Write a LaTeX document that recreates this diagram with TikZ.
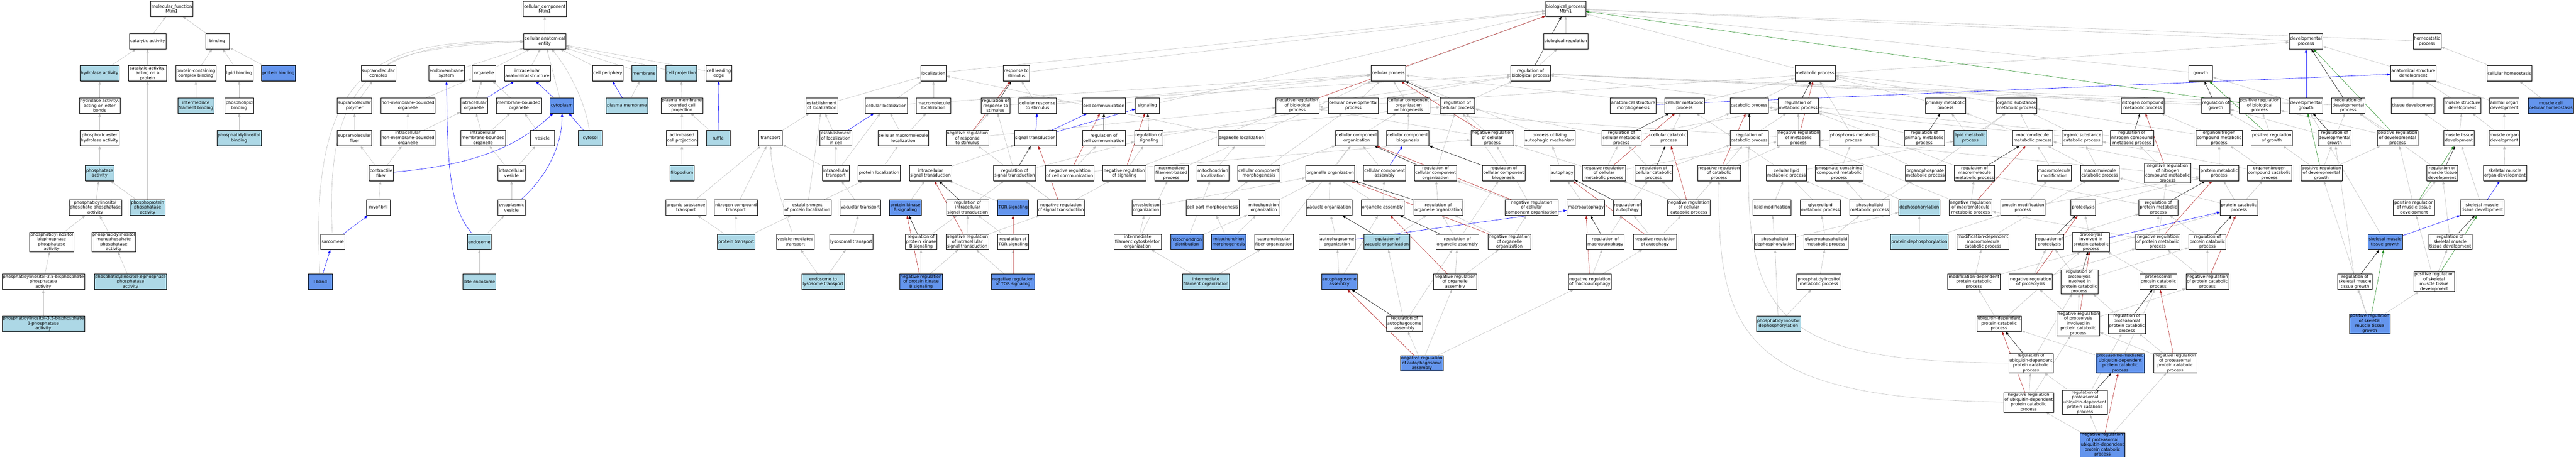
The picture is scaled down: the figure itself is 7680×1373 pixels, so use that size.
\documentclass[tikz,border=0pt]{standalone}
\usepackage{fontspec}
\setmainfont{DejaVu Sans}
\usetikzlibrary{arrows.meta,shadows}
\definecolor{egray}{HTML}{BEBEBE}
\definecolor{lb}{HTML}{ADD8E6}
\definecolor{db}{HTML}{6495ED}
\definecolor{fbred}{HTML}{B22222}
\definecolor{fgreen}{HTML}{228B22}
\pgfdeclarelayer{background}
\pgfsetlayers{background,main}
\tikzset{
  box/.style={rectangle, draw=black, line width=0.8pt, fill=white, align=center,
    font=\fontsize{12.6}{14.6}\selectfont, inner xsep=2.5pt, inner ysep=1pt,
    minimum width=71pt, minimum height=46pt,
    drop shadow={shadow xshift=0.7pt, shadow yshift=-1.5pt, fill=black!45, opacity=1}},
  gn/.style={box},
  gl/.style={box, fill=lb},
  gd/.style={box, fill=db},
  egr/.style={draw=egray, line width=0.9pt, -{Triangle[length=10pt,width=7pt]}},
  eblu/.style={draw=blue, line width=0.9pt, -{Triangle[length=10pt,width=7pt]}},
  eblk/.style={draw=black, line width=0.9pt, -{Triangle[length=10pt,width=7pt]}},
  ered/.style={draw=fbred, line width=0.9pt, -{Triangle[length=10pt,width=7pt]}},
  egrn/.style={draw=fgreen, line width=0.9pt, -{Triangle[length=10pt,width=7pt]}}
}
\begin{document}
\begin{tikzpicture}[x=1pt,y=-1pt]
\useasboundingbox (0,0) rectangle (7680,1373);
% ---------------- molecular function ----------------
\node[gn] (mf) at (512,26) {molecular\_function\\Mtm1};
\node[gn] (cat) at (440,123) {catalytic activity};
\node[gn] (bind) at (648,123) {binding};
\node[gl] (hyd) at (297,219) {hydrolase activity};
\node[gn] (catp) at (440,219) {catalytic activity,\\acting on a\\protein};
\node[gn] (pcb) at (584,219) {protein-containing\\complex binding};
\node[gn] (lipb) at (713,219) {lipid binding};
\node[gd] (protb) at (830,219) {protein binding};
\node[gn] (hydest) at (297,315) {hydrolase activity,\\acting on ester\\bonds};
\node[gl] (ifb) at (584,315) {intermediate\\filament binding};
\node[gn] (plb) at (713,315) {phospholipid\\binding};
\node[gn] (pehyd) at (297,412) {phosphoric ester\\hydrolase activity};
\node[gl] (pib) at (713,412) {phosphatidylinositol\\binding};
\node[gl] (phos) at (297,517) {phosphatase\\activity};
\node[gn] (pipp) at (284,620) {phosphatidylinositol\\phosphate phosphatase\\activity};
\node[gl] (ppp) at (440,620) {phosphoprotein\\phosphatase\\activity};
\node[gn] (pibpp) at (154,722) {phosphatidylinositol\\bisphosphate\\phosphatase\\activity};
\node[gn] (pimpp) at (339,722) {phosphatidylinositol\\monophosphate\\phosphatase\\activity};
\node[gn] (pi35) at (129,841) {phosphatidylinositol-3,5-bisphosphate\\phosphatase\\activity};
\node[gl] (pi3p) at (389,841) {phosphatidylinositol-3-phosphate\\phosphatase\\activity};
\node[gl] (pi353) at (129,966) {phosphatidylinositol-3,5-bisphosphate\\3-phosphatase\\activity};
% ---------------- cellular component ----------------
\node[gn] (cc) at (1624,26) {cellular\_component\\Mtm1};
\node[gn] (cae) at (1624,123) {cellular anatomical\\entity};
\node[gn] (smc) at (1128,219) {supramolecular\\complex};
\node[gn] (ems) at (1331,219) {endomembrane\\system};
\node[gn] (org) at (1443,219) {organelle};
\node[gn] (ias) at (1572,219) {intracellular\\anatomical structure};
\node[gn] (cper) at (1812,219) {cell periphery};
\node[gl] (mem) at (1920,219) {membrane};
\node[gl] (cproj) at (2031,219) {cell projection};
\node[gn] (cle) at (2143,219) {cell leading\\edge};
\node[gn] (smp) at (1057,315) {supramolecular\\polymer};
\node[gn] (nmbo) at (1216,315) {non-membrane-bounded\\organelle};
\node[gn] (iorg) at (1413,315) {intracellular\\organelle};
\node[gn] (mbo) at (1547,315) {membrane-bounded\\organelle};
\node[gd] (cyto) at (1675,315) {cytoplasm};
\node[gl] (pm) at (1869,315) {plasma membrane};
\node[gn] (pmbcp) at (2033,315) {plasma membrane\\bounded cell\\projection};
\node[gn] (smf) at (1057,412) {supramolecular\\fiber};
\node[gn] (inmbo) at (1216,412) {intracellular\\non-membrane-bounded\\organelle};
\node[gn] (imbo) at (1440,412) {intracellular\\membrane-bounded\\organelle};
\node[gn] (ves) at (1617,412) {vesicle};
\node[gl] (cytosol) at (1760,412) {cytosol};
\node[gn] (abcp) at (2033,412) {actin-based\\cell projection};
\node[gl] (ruffle) at (2141,412) {ruffle};
\node[gn] (cfib) at (1136,517) {contractile\\fiber};
\node[gn] (iv) at (1525,517) {intracellular\\vesicle};
\node[gl] (filo) at (2033,517) {filopodium};
\node[gn] (myo) at (1128,620) {myofibril};
\node[gn] (cv) at (1525,620) {cytoplasmic\\vesicle};
\node[gn] (sarc) at (992,722) {sarcomere};
\node[gl] (endo) at (1429,722) {endosome};
\node[gd] (iband) at (955,841) {I band};
\node[gl] (lendo) at (1429,841) {late endosome};
% ---------------- biological process ----------------
\node[gn] (bp) at (4668,26) {biological\_process\\Mtm1};
\node[gn] (breg) at (4668,123) {biological regulation};
\node[gn] (devp) at (6875,123) {developmental\\process};
\node[gn] (homp) at (7236,123) {homeostatic\\process};
% row 219
\node[gn] (loc) at (2783,219) {localization};
\node[gn] (rstim) at (3030,219) {response to\\stimulus};
\node[gn] (cp) at (4139,219) {cellular process};
\node[gn] (rbp) at (4563,219) {regulation of\\biological process};
\node[gn] (mp) at (5411,219) {metabolic process};
\node[gn] (growth) at (6561,219) {growth};
\node[gn] (asd) at (7195,219) {anatomical structure\\development};
\node[gn] (chom) at (7481,219) {cellular homeostasis};
% row 315
\node[gn] (estloc) at (2450,315) {establishment\\of localization};
\node[gn] (cloc) at (2642,315) {cellular localization};
\node[gn] (mmloc) at (2783,315) {macromolecule\\localization};
\node[gn] (rrs) at (2968,315) {regulation of\\response to\\stimulus};
\node[gn] (crs) at (3093,315) {cellular response\\to stimulus};
\node[gn] (ccom) at (3291,315) {cell communication};
\node[gn] (sig) at (3421,315) {signaling};
\node[gn] (nrbp) at (3868,315) {negative regulation\\of biological\\process};
\node[gn] (cdp) at (4035,315) {cellular developmental\\process};
\node[gn] (ccob) at (4200,315) {cellular component\\organization\\or biogenesis};
\node[gn] (rcp) at (4345,315) {regulation of\\cellular process};
\node[gn] (asm) at (4869,315) {anatomical structure\\morphogenesis};
\node[gn] (cmp) at (5022,315) {cellular metabolic\\process};
\node[gn] (catp2) at (5215,315) {catabolic process};
\node[gn] (rmp) at (5361,315) {regulation of\\metabolic process};
\node[gn] (pmp) at (5800,315) {primary metabolic\\process};
\node[gn] (osmp) at (6012,315) {organic substance\\metabolic process};
\node[gn] (ncmp) at (6388,315) {nitrogen compound\\metabolic process};
\node[gn] (rgrowth) at (6606,315) {regulation of\\growth};
\node[gn] (prbp) at (6737,315) {positive regulation\\of biological\\process};
\node[gn] (dgrowth) at (6875,315) {developmental\\growth};
\node[gn] (rdp) at (7001,315) {regulation of\\developmental\\process};
\node[gn] (tdev) at (7194,315) {tissue development};
\node[gn] (msd) at (7341,315) {muscle structure\\development};
\node[gn] (aod) at (7466,315) {animal organ\\development};
\node[gd] (mcch) at (7605,315) {muscle cell\\cellular homeostasis};
% row 412
\node[gn] (trans) at (2297,412) {transport};
\node[gn] (estlocc) at (2492,412) {establishment\\of localization\\in cell};
\node[gn] (cmmloc) at (2693,412) {cellular macromolecule\\localization};
\node[gn] (nrrs) at (2884,412) {negative regulation\\of response\\to stimulus};
\node[gn] (st) at (3087,412) {signal transduction};
\node[gn] (rcc) at (3291,412) {regulation of\\cell communication};
\node[gn] (rsig) at (3425,412) {regulation of\\signaling};
\node[gn] (oloc) at (3701,412) {organelle localization};
\node[gn] (cco) at (4045,412) {cellular component\\organization};
\node[gn] (ccb) at (4197,412) {cellular component\\biogenesis};
\node[gn] (nrcp) at (4449,412) {negative regulation\\of cellular\\process};
\node[gn] (puam) at (4620,412) {process utilizing\\autophagic mechanism};
\node[gn] (rcmp) at (4834,412) {regulation of\\cellular metabolic\\process};
\node[gn] (ccatp) at (4975,412) {cellular catabolic\\process};
\node[gn] (rcatp) at (5215,412) {regulation of\\catabolic process};
\node[gn] (nrmp) at (5362,412) {negative regulation\\of metabolic\\process};
\node[gn] (phmp) at (5526,412) {phosphorus metabolic\\process};
\node[gn] (rpmp) at (5737,412) {regulation of\\primary metabolic\\process};
\node[gl] (lmp) at (5874,412) {lipid metabolic\\process};
\node[gn] (mmp) at (6060,412) {macromolecule\\metabolic process};
\node[gn] (oscp) at (6207,412) {organic substance\\catabolic process};
\node[gn] (rncmp) at (6356,412) {regulation of\\nitrogen compound\\metabolic process};
\node[gn] (oncmp) at (6616,412) {organonitrogen\\compound metabolic\\process};
\node[gn] (prgrowth) at (6773,412) {positive regulation\\of growth};
\node[gn] (rdgrowth) at (6960,412) {regulation of\\developmental\\growth};
\node[gn] (prdp) at (7148,412) {positive regulation\\of developmental\\process};
\node[gn] (mtd) at (7331,412) {muscle tissue\\development};
\node[gn] (mod) at (7466,412) {muscle organ\\development};
% row 517
\node[gn] (itrans) at (2492,517) {intracellular\\transport};
\node[gn] (ploc) at (2621,517) {protein localization};
\node[gn] (ist) at (2774,517) {intracellular\\signal transduction};
\node[gn] (rst) at (3025,517) {regulation of\\signal transduction};
\node[gn] (nrcc) at (3189,517) {negative regulation\\of cell communication};
\node[gn] (nrsig) at (3352,517) {negative regulation\\of signaling};
\node[gn] (ifbp) at (3492,517) {intermediate\\filament-based\\process};
\node[gn] (mloc) at (3616,517) {mitochondrion\\localization};
\node[gn] (ccm) at (3753,517) {cellular component\\morphogenesis};
\node[gn] (oorg) at (3966,517) {organelle organization};
\node[gn] (cca) at (4128,517) {cellular component\\assembly};
\node[gn] (rcco) at (4280,517) {regulation of\\cellular component\\organization};
\node[gn] (rccb) at (4483,517) {regulation of\\cellular component\\biogenesis};
\node[gn] (autoph) at (4657,517) {autophagy};
\node[gn] (nrcmp) at (4782,517) {negative regulation\\of cellular\\metabolic process};
\node[gn] (rccatp) at (4930,517) {regulation of\\cellular catabolic\\process};
\node[gn] (nrcatp) at (5125,517) {negative regulation\\of catabolic\\process};
\node[gn] (clmp) at (5326,517) {cellular lipid\\metabolic process};
\node[gn] (pccmp) at (5483,517) {phosphate-containing\\compound metabolic\\process};
\node[gn] (opmp) at (5740,517) {organophosphate\\metabolic process};
\node[gn] (rmmp) at (5887,517) {regulation of\\macromolecule\\metabolic process};
\node[gn] (mmmod) at (6124,517) {macromolecule\\modification};
\node[gn] (mmcp) at (6260,517) {macromolecule\\catabolic process};
\node[gn] (nrncmp) at (6462,517) {negative regulation\\of nitrogen\\compound metabolic\\process};
\node[gn] (protmp) at (6616,517) {protein metabolic\\process};
\node[gn] (onccp) at (6766,517) {organonitrogen\\compound catabolic\\process};
\node[gn] (prdg) at (6921,517) {positive regulation\\of developmental\\growth};
\node[gn] (rmtd) at (7281,517) {regulation of\\muscle tissue\\development};
\node[gn] (smod) at (7468,517) {skeletal muscle\\organ development};
% row 620
\node[gn] (ost) at (2045,620) {organic substance\\transport};
\node[gn] (nct) at (2194,620) {nitrogen compound\\transport};
\node[gn] (eploc) at (2407,620) {establishment\\of protein localization};
\node[gn] (vtrans) at (2565,620) {vacuolar transport};
\node[gd] (pkb) at (2699,620) {protein kinase\\B signaling};
\node[gn] (rist) at (2885,620) {regulation of\\intracellular\\signal transduction};
\node[gd] (tor) at (3020,620) {TOR signaling};
\node[gn] (nrst) at (3163,620) {negative regulation\\of signal transduction};
\node[gn] (csko) at (3417,620) {cytoskeleton\\organization};
\node[gn] (cpm) at (3615,620) {cell part morphogenesis};
\node[gn] (mito) at (3768,620) {mitochondrion\\organization};
\node[gn] (vorg) at (3962,620) {vacuole organization};
\node[gn] (oasm) at (4122,620) {organelle assembly};
\node[gn] (roo) at (4288,620) {regulation of\\organelle organization};
\node[gn] (nrcco) at (4566,620) {negative regulation\\of cellular\\component organization};
\node[gn] (macro) at (4728,620) {macroautophagy};
\node[gn] (raut) at (4852,620) {regulation of\\autophagy};
\node[gn] (nrccatp) at (5035,620) {negative regulation\\of cellular\\catabolic process};
\node[gn] (lmod) at (5283,620) {lipid modification};
\node[gn] (glmp) at (5427,620) {glycerolipid\\metabolic process};
\node[gn] (plmp) at (5574,620) {phospholipid\\metabolic process};
\node[gl] (dephos) at (5722,620) {dephosphorylation};
\node[gn] (nrmmp) at (5875,620) {negative regulation\\of macromolecule\\metabolic process};
\node[gn] (pmodp) at (6031,620) {protein modification\\process};
\node[gn] (prot) at (6211,620) {proteolysis};
\node[gn] (rprotmp) at (6435,620) {regulation of\\protein metabolic\\process};
\node[gn] (pcatp) at (6675,620) {protein catabolic\\process};
\node[gn] (prmtd) at (7197,620) {positive regulation\\of muscle tissue\\development};
\node[gn] (smtd) at (7400,620) {skeletal muscle\\tissue development};
% row 722
\node[gl] (ptrans) at (2195,722) {protein transport};
\node[gn] (vmt) at (2371,722) {vesicle-mediated\\transport};
\node[gn] (lyst) at (2538,722) {lysosomal transport};
\node[gn] (rpkb) at (2746,722) {regulation of\\protein kinase\\B signaling};
\node[gn] (nrist) at (2884,722) {negative regulation\\of intracellular\\signal transduction};
\node[gn] (rtor) at (3020,722) {regulation of\\TOR signaling};
\node[gn] (ifco) at (3392,722) {intermediate\\filament cytoskeleton\\organization};
\node[gd] (mdist) at (3538,722) {mitochondrion\\distribution};
\node[gd] (mmorph) at (3663,722) {mitochondrion\\morphogenesis};
\node[gn] (sfo) at (3798,722) {supramolecular\\fiber organization};
\node[gn] (apo) at (3986,722) {autophagosome\\organization};
\node[gl] (rvo) at (4134,722) {regulation of\\vacuole organization};
\node[gn] (roa) at (4345,722) {regulation of\\organelle assembly};
\node[gn] (nroo) at (4500,722) {negative regulation\\of organelle\\organization};
\node[gn] (rmacro) at (4786,722) {regulation of\\macroautophagy};
\node[gn] (nraut) at (4934,722) {negative regulation\\of autophagy};
\node[gn] (pldeph) at (5291,722) {phospholipid\\dephosphorylation};
\node[gn] (gplmp) at (5444,722) {glycerophospholipid\\metabolic process};
\node[gl] (pdeph) at (5722,722) {protein dephosphorylation};
\node[gn] (mdmcp) at (5912,722) {modification-dependent\\macromolecule\\catabolic process};
\node[gn] (rprot) at (6110,722) {regulation of\\proteolysis};
\node[gn] (pipcp) at (6234,722) {proteolysis\\involved in\\protein catabolic\\process};
\node[gn] (nrprotmp) at (6433,722) {negative regulation\\of protein metabolic\\process};
\node[gn] (rpcatp) at (6581,722) {regulation of\\protein catabolic\\process};
\node[gd] (smtg) at (7111,722) {skeletal muscle\\tissue growth};
\node[gn] (rsmtd) at (7305,722) {regulation of\\skeletal muscle\\tissue development};
% row 841
\node[gl] (etl) at (2454,841) {endosome to\\lysosome transport};
\node[gd] (nrpkb) at (2746,841) {negative regulation\\of protein kinase\\B signaling};
\node[gd] (nrtor) at (3020,841) {negative regulation\\of TOR signaling};
\node[gl] (ifo) at (3595,841) {intermediate\\filament organization};
\node[gd] (apa) at (3993,841) {autophagosome\\assembly};
\node[gn] (nroa) at (4338,841) {negative regulation\\of organelle\\assembly};
\node[gn] (nrmacro) at (4740,841) {negative regulation\\of macroautophagy};
\node[gn] (pimp) at (5423,841) {phosphatidylinositol\\metabolic process};
\node[gn] (mdpcp) at (5885,841) {modification-dependent\\protein catabolic\\process};
\node[gn] (nrprot) at (6054,841) {negative regulation\\of proteolysis};
\node[gn] (rpipcp) at (6199,841) {regulation of\\proteolysis\\involved in\\protein catabolic\\process};
\node[gn] (ppcp) at (6435,841) {proteasomal\\protein catabolic\\process};
\node[gn] (nrpcatp) at (6581,841) {negative regulation\\of protein catabolic\\process};
\node[gn] (rsmtg) at (7021,841) {regulation of\\skeletal muscle\\tissue growth};
\node[gn] (prsmtd) at (7257,841) {positive regulation\\of skeletal\\muscle tissue\\development};
% row 966
\node[gn] (rapa) at (4187,966) {regulation of\\autophagosome\\assembly};
\node[gl] (pideph) at (5302,966) {phosphatidylinositol\\dephosphorylation};
\node[gn] (udpcp) at (5960,966) {ubiquitin-dependent\\protein catabolic\\process};
\node[gn] (nrpipcp) at (6196,966) {negative regulation\\of proteolysis\\involved in\\protein catabolic\\process};
\node[gn] (rppcp) at (6341,966) {regulation of\\proteasomal\\protein catabolic\\process};
\node[gd] (prsmtg) at (7065,966) {positive regulation\\of skeletal\\muscle tissue\\growth};
% row 1084
\node[gd] (nrapa) at (4239,1084) {negative regulation\\of autophagosome\\assembly};
\node[gn] (rudpcp) at (6055,1084) {regulation of\\ubiquitin-dependent\\protein catabolic\\process};
\node[gd] (pmudp) at (6321,1084) {proteasome-mediated\\ubiquitin-dependent\\protein catabolic\\process};
\node[gn] (nrppcp) at (6485,1084) {negative regulation\\of proteasomal\\protein catabolic\\process};
% row 1201
\node[gn] (nrudpcp) at (6048,1201) {negative regulation\\of ubiquitin-dependent\\protein catabolic\\process};
\node[gn] (rpudp) at (6216,1201) {regulation of\\proteasomal\\ubiquitin-dependent\\protein catabolic\\process};
% row 1328
\node[gd] (nrpudp) at (6268,1328) {negative regulation\\of proteasomal\\ubiquitin-dependent\\protein catabolic\\process};

\begin{pgfonlayer}{background}
\fill[white] (0,0) rectangle (7680,1373);
% ---- gray is_a edges ----
\foreach \a/\b in {cat/mf,bind/mf,hyd/cat,catp/cat,pcb/bind,lipb/bind,protb/bind,hydest/hyd,ifb/pcb,plb/lipb,pehyd/hydest,pib/plb,phos/pehyd,pipp/phos,ppp/phos,ppp/catp,pibpp/pipp,pimpp/pipp,pi35/pibpp,pi3p/pimpp,pi353/pi35,
 cae/cc,ems/cae,org/cae,ias/cae,cper/cae,mem/cae,cproj/cae,cle/cae,smp/smc,nmbo/org,iorg/org,mbo/org,cyto/cae,pm/mem,pmbcp/cproj,smf/smp,inmbo/nmbo,inmbo/iorg,imbo/iorg,imbo/mbo,ves/mbo,abcp/pmbcp,ruffle/pmbcp,cfib/smf,cfib/inmbo,iv/imbo,iv/ves,filo/abcp,myo/cfib,cv/iv,endo/cv,lendo/endo,
 trans/estloc,ost/trans,nct/trans,ptrans/ost,ptrans/nct,ptrans/eploc,eploc/estloc,eploc/ploc,etl/vmt,etl/lyst,lyst/vtrans,vtrans/itrans,itrans/trans,itrans/estlocc,itrans/cloc,
 breg/bp,loc/bp,rstim/bp,cp/bp,rbp/breg,mp/bp,growth/bp,devp/bp,homp/bp,asd/devp,chom/homp,
 estloc/loc,cloc/loc,cloc/cp,mmloc/loc,rrs/rbp,crs/rstim,crs/cp,ccom/cp,sig/bp,nrbp/rbp,cdp/devp,cdp/cp,ccob/cp,rcp/rbp,cmp/mp,cmp/cp,catp2/mp,rmp/rbp,pmp/mp,osmp/mp,ncmp/mp,rgrowth/rbp,prbp/rbp,dgrowth/growth,rdp/rbp,tdev/asd,msd/asd,aod/asd,mcch/chom,
 estlocc/estloc,cmmloc/mmloc,cmmloc/cloc,nrrs/rrs,nrrs/nrbp,rcc/rcp,rsig/rbp,oloc/loc,cco/ccob,ccb/ccob,nrcp/rcp,nrcp/nrbp,puam/cp,rcmp/rcp,rcmp/rmp,ccatp/catp2,ccatp/cmp,rcatp/rmp,nrmp/rmp,nrmp/nrbp,phmp/mp,rpmp/rmp,lmp/pmp,lmp/osmp,mmp/osmp,mmp/pmp,oscp/osmp,oscp/catp2,rncmp/rmp,oncmp/ncmp,oncmp/osmp,prgrowth/rgrowth,prgrowth/prbp,rdgrowth/rgrowth,rdgrowth/rdp,prdp/rdp,prdp/prbp,mtd/tdev,mtd/msd,mod/aod,mod/msd}
  \draw[egr] (\a) -- (\b);
\foreach \a/\b in {ploc/cmmloc,ist/st,rst/rrs,rst/rsig,nrcc/rcc,nrcc/nrcp,nrsig/rsig,nrsig/nrbp,ifbp/cp,mloc/oloc,ccm/cco,ccm/cdp,oorg/cco,cca/cco,rcco/rcp,rccb/rcp,autoph/puam,nrcmp/rcmp,nrcmp/nrcp,nrcmp/nrmp,rccatp/rcatp,rccatp/rcmp,nrcatp/rcatp,nrcatp/nrmp,clmp/lmp,clmp/cmp,pccmp/phmp,opmp/osmp,opmp/phmp,rmmp/rmp,mmmod/mmp,mmcp/mmp,mmcp/oscp,nrncmp/rncmp,nrncmp/nrmp,protmp/oncmp,protmp/mmp,onccp/oncmp,onccp/oscp,prdg/rdgrowth,prdg/prgrowth,prdg/prdp,rmtd/rdp,smod/mod,
 pkb/ist,rist/rst,tor/ist,nrst/rst,nrst/nrsig,nrst/nrrs,csko/oorg,cpm/ccm,mito/oorg,vorg/oorg,oasm/oorg,oasm/cca,roo/rcco,nrcco/rcco,nrcco/nrcp,macro/autoph,raut/rccatp,nrccatp/rccatp,nrccatp/nrcatp,nrccatp/nrcmp,lmod/clmp,glmp/clmp,plmp/clmp,plmp/pccmp,plmp/opmp,dephos/pccmp,nrmmp/rmmp,nrmmp/nrmp,pmodp/mmmod,pmodp/protmp,prot/protmp,rprotmp/rmmp,pcatp/protmp,pcatp/mmcp,pcatp/onccp,prmtd/rmtd,prmtd/prdp,smtd/mtd,
 rpkb/rist,nrist/rist,nrist/nrst,rtor/rist,ifco/csko,ifco/ifbp,mdist/mloc,mdist/mito,mmorph/mito,mmorph/cpm,sfo/cco,apo/vorg,rvo/roo,roa/roo,roa/rccb,nroo/roo,nroo/nrcco,rmacro/raut,nraut/raut,nraut/nrccatp,pldeph/lmod,pldeph/dephos,gplmp/glmp,gplmp/plmp,pdeph/dephos,pdeph/pmodp,mdmcp/mmcp,rprot/rprotmp,pipcp/prot,nrprotmp/rprotmp,nrprotmp/nrmmp,nrprotmp/nrncmp,rpcatp/rprotmp,smtg/dgrowth,rsmtd/rmtd,
 nrpkb/rpkb,nrpkb/nrist,nrtor/rtor,nrtor/nrist,ifo/ifco,ifo/sfo,apa/apo,apa/oasm,nroa/roa,nroa/nroo,nrmacro/rmacro,nrmacro/nraut,pimp/gplmp,mdpcp/mdmcp,mdpcp/pcatp,nrprot/rprot,nrprot/nrprotmp,rpipcp/rprot,rpipcp/rpcatp,ppcp/pipcp,nrpcatp/rpcatp,nrpcatp/nrprotmp,rsmtg/rdgrowth,prsmtd/rsmtd,prsmtd/prmtd,
 rapa/rvo,rapa/roa,pideph/pldeph,pideph/pimp,udpcp/mdpcp,udpcp/pipcp,nrpipcp/rpipcp,nrpipcp/nrprot,nrpipcp/nrpcatp,rppcp/rpipcp,prsmtg/rsmtg,prsmtg/prdg,prsmtg/prsmtd,
 nrapa/rapa,nrapa/nroa,nrapa/nrmacro,rudpcp/rpipcp,pmudp/udpcp,pmudp/ppcp,nrppcp/rppcp,nrppcp/nrpipcp,
 nrudpcp/rudpcp,nrudpcp/nrpipcp,rpudp/rudpcp,rpudp/rppcp,nrpudp/nrudpcp,nrpudp/rpudp,nrpudp/nrppcp}
  \draw[egr] (\a) -- (\b);
% curved gray edges
\draw[egr] (smc) .. controls (1200,150) and (1400,130) .. (cae);
\draw[egr] (sarc) .. controls (965,200) and (1150,128) .. (cae);
\draw[egr] (iband) .. controls (918,170) and (1150,122) .. (cae);
\draw[egr] (cytosol) .. controls (1745,300) and (1690,200) .. (cae);
\draw[egr] (vmt) .. controls (2330,600) and (2300,520) .. (trans);
\draw[egr] (rudpcp) .. controls (5300,1080) and (5200,950) .. (rcatp);
\draw[egr] (nrudpcp) .. controls (5200,1190) and (5120,1000) .. (nrcatp);
% ---- blue part_of ----
\foreach \a/\b in {iorg/ias,cyto/ias,pm/cper,cytosol/cyto,ruffle/cle,sarc/myo,iband/sarc,
 st/crs,st/ccom,st/sig,estlocc/cloc,cca/ccb,asm/asd,dgrowth/devp,apo/macro,pipcp/pcatp,smtd/smod,smtg/smtd}
  \draw[eblu] (\a) -- (\b);
\draw[eblu] (cfib) .. controls (1450,490) and (1560,420) .. (cyto);
\draw[eblu] (cv) .. controls (1640,520) and (1677,420) .. (cyto);
\draw[eblu] (endo) .. controls (1340,620) and (1334,500) .. (ems);
% ---- black regulates ----
\foreach \a/\b in {rbp/bp,rrs/rstim,rcp/cp,rmp/mp,rgrowth/growth,rdp/devp,rcc/ccom,rsig/sig,rcmp/cmp,rcatp/catp2,rpmp/pmp,rncmp/ncmp,rdgrowth/dgrowth,rst/st,rcco/cco,rccb/ccb,rccatp/ccatp,rmmp/mmp,rmtd/mtd,rist/ist,roo/oorg,raut/autoph,rprotmp/protmp,rpkb/pkb,rtor/tor,rvo/vorg,roa/oasm,rmacro/macro,rprot/prot,rpcatp/pcatp,rsmtd/smtd,rpipcp/pipcp,rsmtg/smtg,rapa/apa,rppcp/ppcp,rudpcp/udpcp,rpudp/pmudp}
  \draw[eblk] (\a) -- (\b);
% ---- red negatively regulates ----
\foreach \a/\b in {nrbp/bp,nrrs/rstim,nrcp/cp,nrmp/mp,nrcc/ccom,nrsig/sig,nrcmp/cmp,nrcatp/catp2,nrncmp/ncmp,nrst/st,nrcco/cco,nrccatp/ccatp,nrmmp/mmp,nrist/ist,nroo/oorg,nraut/autoph,nrprotmp/protmp,nrpkb/pkb,nrtor/tor,nroa/oasm,nrmacro/macro,nrprot/prot,nrpcatp/pcatp,nrapa/apa,nrpipcp/pipcp,nrppcp/ppcp,nrudpcp/udpcp,nrpudp/pmudp}
  \draw[ered] (\a) -- (\b);
% ---- green positively regulates ----
\foreach \a/\b in {prbp/bp,prgrowth/growth,prdp/devp,prdg/dgrowth,prmtd/mtd,prsmtd/smtd,prsmtg/smtg}
  \draw[egrn] (\a) -- (\b);
\end{pgfonlayer}
\end{tikzpicture}
\end{document}
